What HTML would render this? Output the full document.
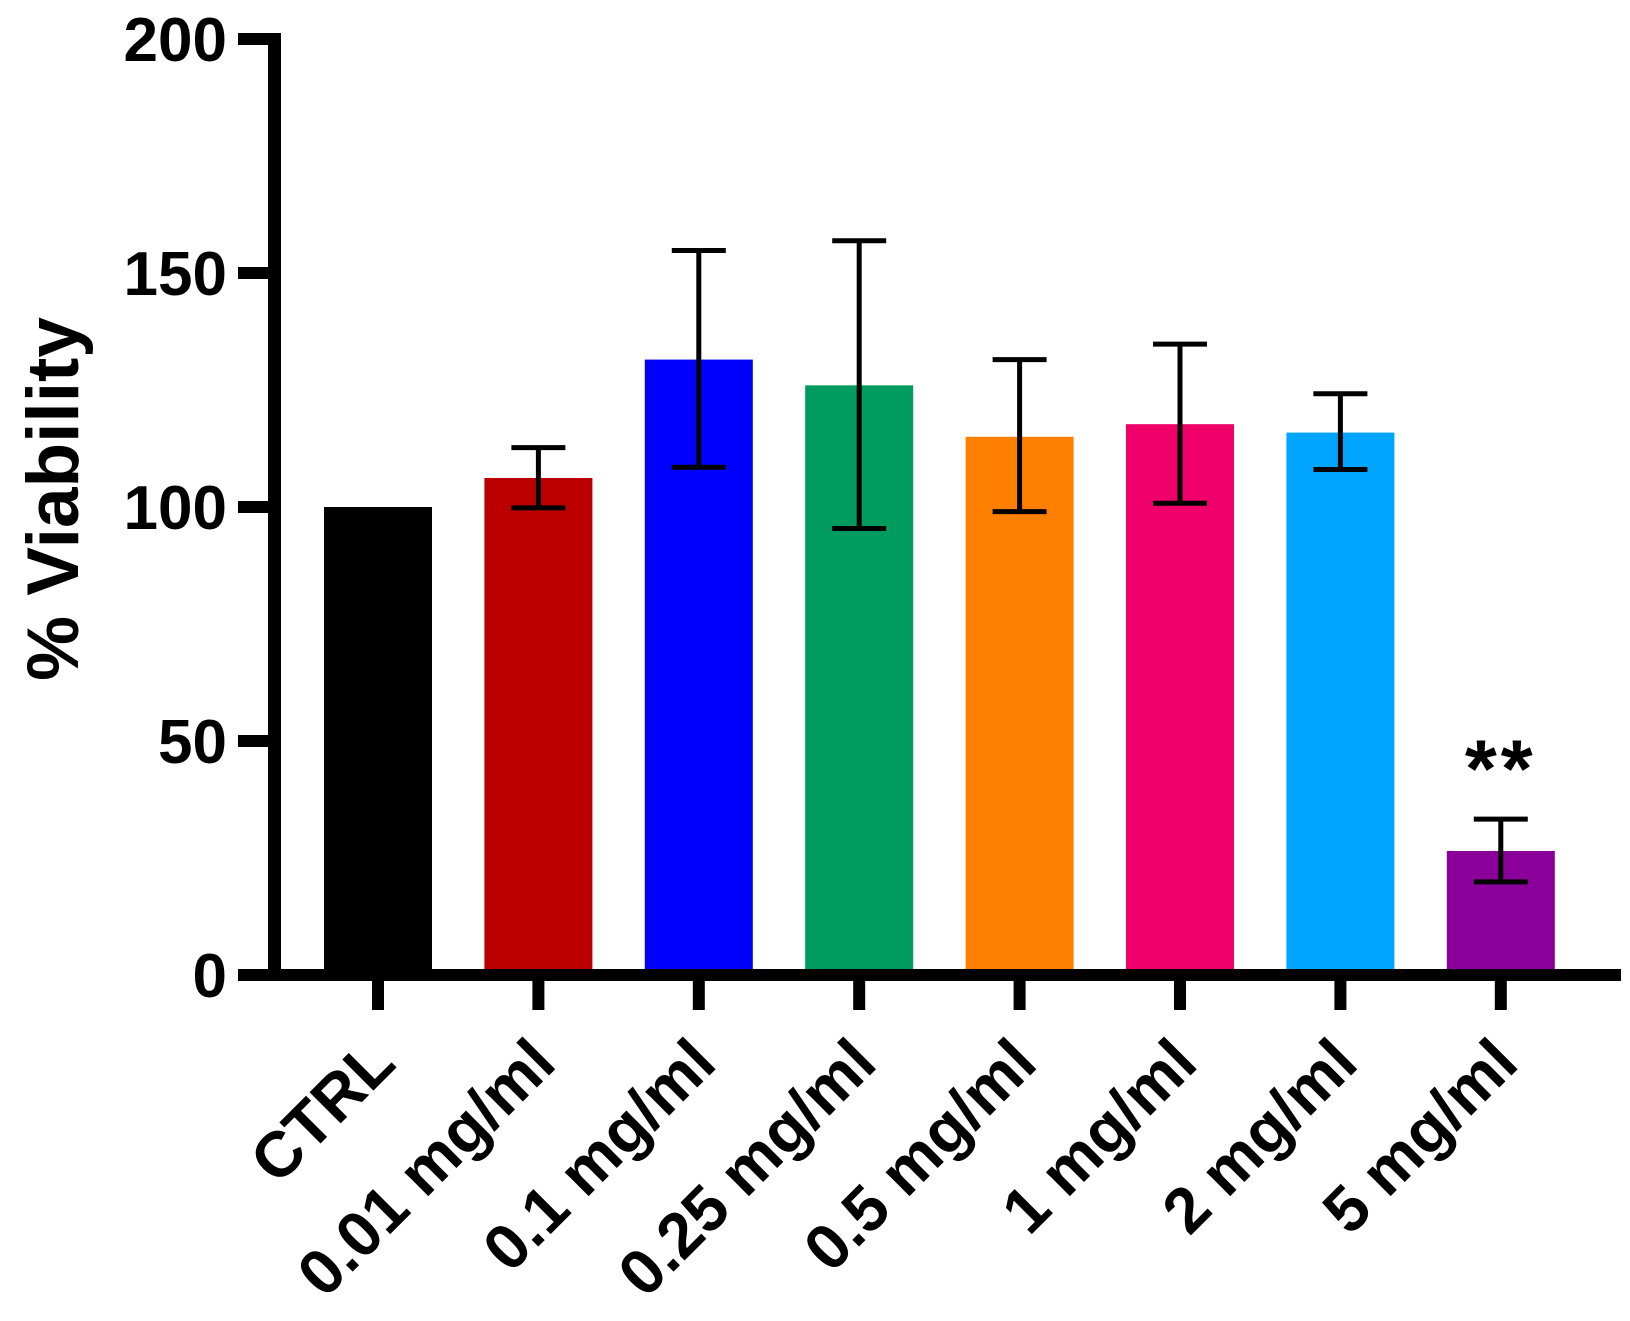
<!DOCTYPE html>
<html><head><meta charset="utf-8"><style>
html,body{margin:0;padding:0;background:#fff;}
svg{display:block;font-family:"Liberation Sans",Arial,sans-serif;font-weight:bold;}
</style></head><body>
<svg id="chart" width="1630" height="1321" viewBox="0 0 1630 1321" xmlns="http://www.w3.org/2000/svg">
<g id="bars"></g>
<g id="errs"></g>
<g id="axes"></g>
<text transform="translate(78,499) rotate(-90)" text-anchor="middle" font-size="73">% Viability</text>
</svg>
<script>
const categories = ["CTRL","0.01 mg/ml","0.1 mg/ml","0.25 mg/ml","0.5 mg/ml","1 mg/ml","2 mg/ml","5 mg/ml"];
const means = [100, 106.2, 131.5, 126, 115, 117.7, 115.9, 26.5];
const errHigh = [null, 112.7, 154.8, 156.9, 131.5, 134.8, 124.2, 33.3];
const errLow = [null, 99.8, 108.5, 95.4, 99, 100.8, 108, 19.9];
const colors = ["#000000","#BB0000","#0000FF","#009B5F","#FF8000","#F0006A","#00A5FF","#8B009B"];
const yTicks = [0, 50, 100, 150, 200];
const sigMarks = ["","","","","","","","**"];

const NS = "http://www.w3.org/2000/svg";
const y0 = 975, pxPerUnit = 4.68;
function yScale(v){ return y0 - v * pxPerUnit; }
function xScale(i){ return 378 + i * 160.4; }
function mk(tag, attrs, parent){
  const el = document.createElementNS(NS, tag);
  for (const k in attrs) el.setAttribute(k, attrs[k]);
  parent.appendChild(el);
  return el;
}
const bars = document.getElementById('bars');
const errs = document.getElementById('errs');
const axes = document.getElementById('axes');
const bw = 108;
categories.forEach((c, i) => {
  const cx = xScale(i);
  const r = mk('rect', {x: cx - bw/2, y: yScale(means[i]), width: bw, height: y0 - yScale(means[i]), fill: colors[i]}, bars);
  
  
  if (errHigh[i] !== null) {
    const g = mk('g', {stroke: '#000', 'stroke-width': 5}, errs);
    
    
    mk('line', {x1: cx, x2: cx, y1: yScale(errHigh[i]), y2: yScale(errLow[i])}, g);
    mk('line', {x1: cx - 27, x2: cx + 27, y1: yScale(errHigh[i]), y2: yScale(errHigh[i])}, g);
    mk('line', {x1: cx - 27, x2: cx + 27, y1: yScale(errLow[i]), y2: yScale(errLow[i])}, g);
  }
  if (sigMarks[i]) {
    const s = mk('text', {x: cx, y: yScale(errHigh[i]) - 22, 'text-anchor': 'middle', 'font-size': 82, 'letter-spacing': 4}, errs);
    s.textContent = sigMarks[i];
    
    
  }
  const t = mk('rect', {x: cx - 6, y: y0, width: 12, height: 1010 - y0}, axes);
  
  
  const lab = mk('text', {transform: 'translate(' + (cx + 20) + ',1066) rotate(-45)', 'text-anchor': 'end', 'font-size': 64}, axes);
  lab.textContent = c;
  
  
});
const ya = mk('rect', {x: 268, y: 33, width: 13, height: y0 + 6 - 33}, axes);


const xa = mk('rect', {x: 268, y: y0 - 6, width: 1621 - 268, height: 12}, axes);


yTicks.forEach(v => {
  const y = yScale(v);
  const tk = mk('rect', {x: 238, y: y - 6, width: 35, height: 12}, axes);
  
  
  const tl = mk('text', {x: 227, y: y + 22, 'text-anchor': 'end', 'font-size': 62}, axes);
  tl.textContent = v;
  
  
});
</script>
</body></html>
